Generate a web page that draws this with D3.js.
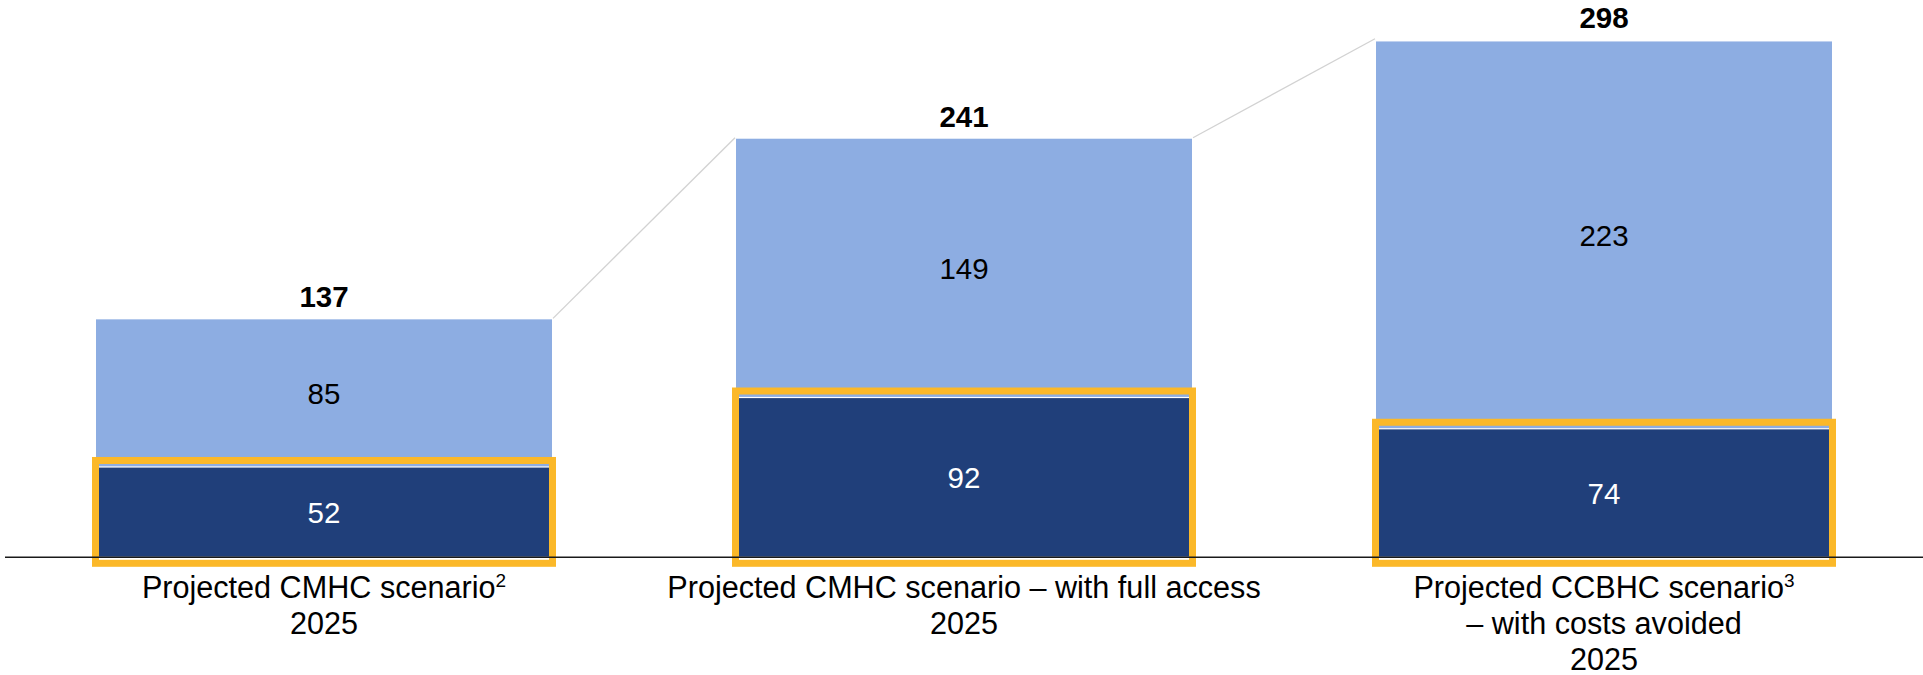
<!DOCTYPE html>
<html>
<head>
<meta charset="utf-8">
<script src="https://cdn.jsdelivr.net/npm/d3@7"></script>
<style>
  html, body { margin: 0; padding: 0; background: #ffffff; }
  svg { display: block; font-family: "Liberation Sans", Arial, sans-serif; }
</style>
</head>
<body>
<svg id="chart" width="1923" height="675"></svg>
<script>
// Scenario categories (label lines, with an optional footnote marker on line one)
const categories = ["cmhc", "cmhcFull", "ccbhc"];
const labelLines = [
  ["Projected CMHC scenario", "2025"],
  ["Projected CMHC scenario \u2013 with full access", "2025"],
  ["Projected CCBHC scenario", "\u2013 with costs avoided", "2025"]
];
const footnotes = ["2", "", "3"];

// Stacked segment values
const baseValues = [52, 92, 74];      // dark, highlighted segment
const upperValues = [85, 149, 223];   // light segment on top
const totals = [137, 241, 298];

const colors = {
  base: "#203f7a",
  upper: "#8dade2",
  highlight: "#fbb829",
  connector: "#d2d2d2",
  axis: "#1a1a1a"
};

const width = 1923, height = 675;
const svg = d3.select("#chart");

const x = d3.scaleBand()
  .domain(categories)
  .range([4, 1924])
  .paddingInner(0.2875)
  .paddingOuter(0.14375);

const y = d3.scaleLinear()
  .domain([0, 320])
  .range([557.3, 1.5]);

const rows = categories.map((c, i) => ({
  key: c,
  base: baseValues[i],
  upper: upperValues[i],
  total: totals[i],
  lines: labelLines[i],
  note: footnotes[i]
}));

// Connector lines between the tops of neighbouring bars
const connectors = svg.append("g");
for (let i = 0; i < rows.length - 1; i++) {
  const a = rows[i], b = rows[i + 1];
  connectors.append("line")
    .attr("x1", x(a.key) + x.bandwidth() + 1)
    .attr("y1", y(a.total) - 1)
    .attr("x2", x(b.key) - 1)
    .attr("y2", y(b.total) - 1)
    .attr("stroke", colors.connector)
    .attr("stroke-width", 1.3);
}

const bars = svg.append("g").selectAll("g").data(rows).join("g");

// Light upper segment
bars.append("rect")
  .attr("x", d => x(d.key))
  .attr("y", d => y(d.base + d.upper))
  .attr("width", x.bandwidth())
  .attr("height", d => y(d.base) - y(d.base + d.upper))
  .attr("fill", colors.upper);

// Dark base segment
bars.append("rect")
  .attr("x", d => x(d.key))
  .attr("y", d => y(d.base))
  .attr("width", x.bandwidth())
  .attr("height", d => y(0) - y(d.base))
  .attr("fill", colors.base)
  .attr("stroke", "#ffffff")
  .attr("stroke-width", 1.2);

// Baseline
svg.append("line")
  .attr("x1", 5).attr("x2", width)
  .attr("y1", y(0)).attr("y2", y(0))
  .attr("stroke", colors.axis)
  .attr("stroke-width", 1.5);

// Highlight frame around the base segment
bars.append("rect")
  .attr("x", d => x(d.key) - 0.5)
  .attr("y", d => y(d.base) - 6.5)
  .attr("width", x.bandwidth() + 1)
  .attr("height", d => y(0) + 6 - (y(d.base) - 6.5))
  .attr("fill", "none")
  .attr("stroke", colors.highlight)
  .attr("stroke-width", 7);

// Segment value labels
bars.append("text")
  .attr("x", d => x(d.key) + x.bandwidth() / 2)
  .attr("y", d => (y(d.base + d.upper) + y(d.base)) / 2)
  .attr("dy", "0.36em")
  .attr("text-anchor", "middle")
  .attr("font-size", 29.5)
  .attr("fill", "#000000")
  .text(d => d.upper);

bars.append("text")
  .attr("x", d => x(d.key) + x.bandwidth() / 2)
  .attr("y", d => (y(d.base) + y(0)) / 2)
  .attr("dy", "0.36em")
  .attr("text-anchor", "middle")
  .attr("font-size", 29.5)
  .attr("fill", "#ffffff")
  .text(d => d.base);

// Totals above bars
bars.append("text")
  .attr("x", d => x(d.key) + x.bandwidth() / 2)
  .attr("y", d => y(d.total) - 12)
  .attr("text-anchor", "middle")
  .attr("font-size", 29.5)
  .attr("font-weight", "bold")
  .attr("fill", "#000000")
  .text(d => d.total);

// Category labels
bars.each(function (d) {
  const g = d3.select(this);
  const cx = x(d.key) + x.bandwidth() / 2;
  d.lines.forEach((line, li) => {
    const t = g.append("text")
      .attr("x", cx)
      .attr("y", 597.5 + li * 36)
      .attr("text-anchor", "middle")
      .attr("font-size", 30.6)
      .attr("fill", "#000000");
    t.append("tspan").text(line);
    if (li === 0 && d.note) {
      t.append("tspan")
        .attr("font-size", 19)
        .attr("dy", -11)
        .text(d.note);
    }
  });
});
</script>
</body>
</html>
